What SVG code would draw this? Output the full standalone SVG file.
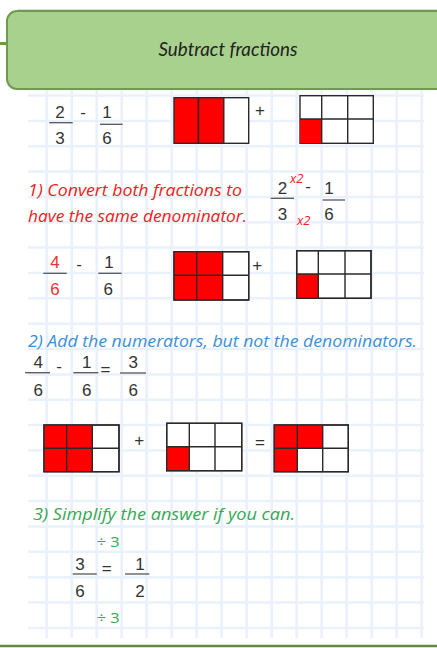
<svg xmlns="http://www.w3.org/2000/svg" width="437" height="648" viewBox="0 0 437 648">
<style>
.grid{stroke:#e9f1fc;stroke-width:2.5;fill:none}
.num{font-family:"Liberation Sans",Arial,sans-serif;font-size:17px;text-anchor:middle;fill:#333}
.bar{stroke:#555;stroke-width:1.3}
.cell{stroke:#2a2a2a;stroke-width:1.4}
.red{fill:#ff0000}
.wht{fill:#ffffff}
.hand{font-family:"Open Sans","DejaVu Sans",sans-serif;font-style:italic;font-size:16px}
.small{font-family:"Open Sans","DejaVu Sans",sans-serif;font-style:italic;font-size:13px}
.div{font-family:"Open Sans","DejaVu Sans",sans-serif;font-size:14px}
</style>
<rect x="0" y="0" width="437" height="648" fill="#ffffff"/>
<g id="grid">
<path class="grid" d="M46.7 90V638M71.7 90V638M96.7 90V638M121.7 90V638M146.7 90V638M171.7 90V638M196.7 90V638M221.7 90V638M246.7 90V638M271.7 90V638M296.7 90V638M321.7 90V638M346.7 90V638M371.7 90V638M396.7 90V638M421.7 90V638"/>
<path class="grid" d="M28 95.5H424M28 120.9H424M28 146.2H424M28 171.6H424M28 196.9H424M28 222.3H424M28 247.6H424M28 273H424M28 298.3H424M28 323.7H424M28 349H424M28 374.4H424M28 399.7H424M28 425H424M28 450.4H424M28 475.8H424M28 501.1H424M28 526.5H424M28 551.8H424M28 577.2H424M28 602.5H424M28 627.9H424"/>
</g>
<g id="connectors">
<line x1="0" y1="43.5" x2="8" y2="43.5" stroke="#6a9a4a" stroke-width="3"/>
<line x1="0" y1="646" x2="437" y2="646" stroke="#5f8a3c" stroke-width="2.5"/>
</g>
<g id="header">
<line x1="18" y1="9.5" x2="437" y2="9.5" stroke="#dcdcdc" stroke-width="1"/>
<rect x="7" y="11" width="445" height="78" rx="10" fill="#a9d18e" stroke="#6f9a4f" stroke-width="2"/>
<text x="228" y="56" text-anchor="middle" font-family="Lato,'Open Sans',sans-serif" font-style="italic" font-size="19" fill="#222" textLength="139" lengthAdjust="spacingAndGlyphs">Subtract fractions</text>
</g>
<g id="row1-fractions">
<text class="num" x="60" y="118">2</text>
<line class="bar" x1="49.3" y1="122.7" x2="72.7" y2="122.7"/>
<text class="num" x="60" y="144">3</text>
<text class="num" x="83" y="118" font-size="13">-</text>
<text class="num" x="107" y="118">1</text>
<line class="bar" x1="100" y1="124.3" x2="122.7" y2="124.3"/>
<text class="num" x="107" y="143.5">6</text>
</g>
<g id="row1-bars">
<rect class="cell red" x="174" y="97.7" width="24.5" height="45.6"/>
<rect class="cell red" x="198.5" y="97.7" width="25.3" height="45.6"/>
<rect class="cell wht" x="223.8" y="97.7" width="24.9" height="45.6"/>
<text class="num" x="260" y="116" font-size="15">+</text>
<rect class="cell wht" x="300" y="95.7" width="73.3" height="47.6"/>
<rect class="red" x="300" y="119" width="21.7" height="24.3"/>
<path class="cell" d="M300 119H373.3M321.7 95.7V143.3M347.7 95.7V143.3" fill="none"/>
</g>
<g id="step1">
<text class="hand" x="28" y="196" fill="#f02020" textLength="214" lengthAdjust="spacingAndGlyphs">1) Convert both fractions to</text>
<text class="hand" x="28" y="222" fill="#f02020" textLength="219" lengthAdjust="spacingAndGlyphs">have the same denominator.</text>
<text class="num" x="282.5" y="194">2</text>
<line class="bar" x1="270.7" y1="198.3" x2="294" y2="198.3"/>
<text class="num" x="282.5" y="220">3</text>
<text class="small" x="290" y="183" fill="#f02020">x2</text>
<text class="num" x="308" y="192" font-size="12">-</text>
<text class="num" x="329" y="194">1</text>
<line class="bar" x1="322.7" y1="200" x2="345" y2="200"/>
<text class="num" x="329" y="220">6</text>
<text class="small" x="297" y="225" fill="#f02020">x2</text>
</g>
<g id="row2-fractions">
<text class="num" x="55" y="268" style="fill:#f03030">4</text>
<line class="bar" x1="43.3" y1="273.3" x2="66.7" y2="273.3"/>
<text class="num" x="55" y="295" style="fill:#f03030">6</text>
<text class="num" x="79" y="270" font-size="13">-</text>
<text class="num" x="109" y="268">1</text>
<line class="bar" x1="98.3" y1="273.3" x2="121.7" y2="273.3"/>
<text class="num" x="108.3" y="295">6</text>
</g>
<g id="row2-bars">
<rect class="cell wht" x="174" y="251.7" width="74.7" height="48.3"/>
<rect class="red" x="174" y="251.7" width="48.7" height="48.3"/>
<path class="cell" d="M174 275.3H248.7M196.7 251.7V300M222.7 251.7V300" fill="none"/>
<rect class="cell" x="174" y="251.7" width="74.7" height="48.3" fill="none"/>
<text class="num" x="257.3" y="270.5" font-size="15">+</text>
<rect class="cell wht" x="296.7" y="250.7" width="74.3" height="47.6"/>
<rect class="red" x="296.7" y="274" width="21.6" height="24.3"/>
<path class="cell" d="M296.7 274H371M318.3 250.7V298.3M345 250.7V298.3" fill="none"/>
<rect class="cell" x="296.7" y="250.7" width="74.3" height="47.6" fill="none"/>
</g>
<g id="step2">
<text class="hand" x="28" y="346.5" fill="#3a8fd8" textLength="389" lengthAdjust="spacingAndGlyphs">2) Add the numerators, but not the denominators.</text>
<text class="num" x="38.3" y="368">4</text>
<line class="bar" x1="25" y1="372.7" x2="50" y2="372.7"/>
<text class="num" x="38.3" y="396">6</text>
<text class="num" x="59" y="372" font-size="12">-</text>
<text class="num" x="86.7" y="368">1</text>
<line class="bar" x1="73.3" y1="372.7" x2="98.3" y2="372.7"/>
<text class="num" x="86.7" y="396">6</text>
<text class="num" x="105.5" y="375" font-size="15">=</text>
<text class="num" x="133.3" y="368">3</text>
<line class="bar" x1="120" y1="373" x2="146" y2="373"/>
<text class="num" x="133.3" y="396">6</text>
</g>
<g id="row3-bars">
<rect class="cell wht" x="44" y="425" width="75" height="46.7"/>
<rect class="red" x="44" y="425" width="48.3" height="46.7"/>
<path class="cell" d="M44 448.3H119M66.7 425V471.7M92.3 425V471.7" fill="none"/>
<rect class="cell" x="44" y="425" width="75" height="46.7" fill="none"/>
<text class="num" x="139.3" y="446" font-size="15">+</text>
<rect class="cell wht" x="166.7" y="423.3" width="75" height="47.4"/>
<rect class="red" x="166.7" y="446.7" width="22.6" height="24"/>
<path class="cell" d="M166.7 446.7H241.7M189.3 423.3V470.7M215 423.3V470.7" fill="none"/>
<rect class="cell" x="166.7" y="423.3" width="75" height="47.4" fill="none"/>
<text class="num" x="260" y="448" font-size="15">=</text>
<rect class="cell wht" x="274.3" y="425" width="74" height="46.7"/>
<rect class="red" x="274.3" y="425" width="48.4" height="23.3"/>
<rect class="red" x="274.3" y="448.3" width="23" height="23.4"/>
<path class="cell" d="M274.3 448.3H348.3M297.3 425V471.7M322.7 425V471.7" fill="none"/>
<rect class="cell" x="274.3" y="425" width="74" height="46.7" fill="none"/>
</g>
<g id="step3">
<text class="hand" x="33" y="520" fill="#34a853" textLength="262" lengthAdjust="spacingAndGlyphs">3) Simplify the answer if you can.</text>
<text class="div" x="96.7" y="546.7" fill="#34a853" textLength="23" lengthAdjust="spacingAndGlyphs">÷ 3</text>
<text class="num" x="80" y="570">3</text>
<line class="bar" x1="72.7" y1="574" x2="96.7" y2="574"/>
<text class="num" x="80" y="597">6</text>
<text class="num" x="106.7" y="573.5" font-size="15">=</text>
<text class="num" x="140" y="570">1</text>
<line class="bar" x1="125" y1="574" x2="149.3" y2="574"/>
<text class="num" x="140" y="597">2</text>
<text class="div" x="96.7" y="623" fill="#34a853" textLength="23" lengthAdjust="spacingAndGlyphs">÷ 3</text>
</g>
</svg>
